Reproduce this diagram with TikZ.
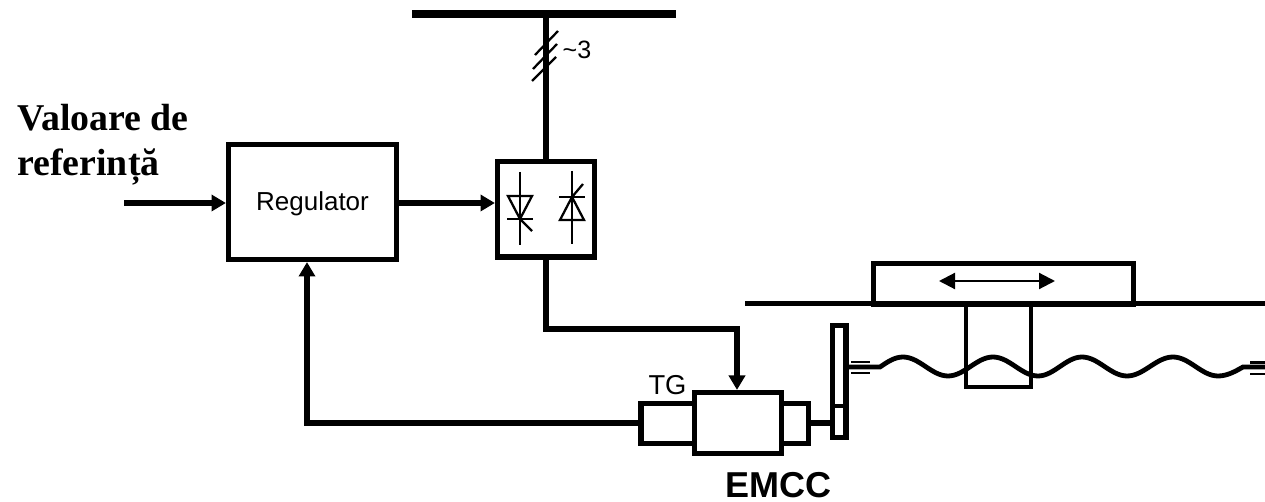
\documentclass[tikz,border=0pt]{standalone}
\usepackage{fontspec}
\setmainfont{Liberation Sans}
\newfontfamily\timesbold[BoldFont={Liberation Serif Bold}]{Liberation Serif}
\usetikzlibrary{arrows.meta}
\tikzset{
  px/.style={x=0.75pt,y=-0.75pt},
  box/.style={draw,fill=white,line width=3.9pt,inner sep=0pt,outer sep=.5\pgflinewidth},
  wire/.style={line width=3.9pt},
  arr/.style={line width=3.9pt,-{Triangle[length=10.8pt,width=12pt]}},
  thin/.style={line width=1.7pt},
  label/.style={inner sep=0pt,outer sep=0pt,anchor=base},
}
\newcommand{\tbox}[6]{% name, left, top, right, bottom, extra
  \node[box,#6,minimum width={(#4-#2)*0.75pt},minimum height={(#5-#3)*0.75pt}] (#1) at ({(#2+#4)/2},{(#3+#5)/2}) {};}
\begin{document}
\begin{tikzpicture}[px]
\useasboundingbox (0,0) rectangle (1265,502);
% supply bar and lead
\coordinate (busL) at (412,14);
\coordinate (busR) at (676,14);
\draw[line width=6pt] (busL) -- (busR);
\tbox{conv}{497.5}{161.5}{594.5}{257}{}
\coordinate (busT) at (546,14);
\draw[wire] (busT) -- (conv.north -| busT);
\draw[thin] (535,55) -- (558,31);
\draw[thin] (533,69) -- (557,44);
\draw[thin] (532,81) -- (556,57);
\node[label,font=\fontsize{18.8pt}{20pt}\selectfont] (ph) at (577,59) {\textasciitilde 3};
% converter symbols
\draw[thin] (520,172) -- (520,245);
\draw[thin,line join=miter] (508,196) -- (532,196) -- (520,219) -- cycle;
\draw[thin] (507,219) -- (533,219);
\draw[thin] (520,219) -- (532,231);
\draw[thin] (572,171) -- (572,244);
\draw[thin,line join=miter] (572,197) -- (584,220) -- (560,220) -- cycle;
\draw[thin] (559,197) -- (585,197);
\draw[thin] (572,197) -- (583,184);
% regulator
\tbox{reg}{228.5}{144.5}{396.5}{259.5}{}
\node[label,font=\fontsize{19.5pt}{22pt}\selectfont] (regt) at (312.5,210.7) {Regulator};
\coordinate (in) at (124,203);
\draw[arr] (in) -- (reg.west |- in);
\draw[arr] (reg.east |- in) -- (conv.west |- in);
% texts left
\node[anchor=base west,inner sep=0pt,font=\timesbold\bfseries\fontsize{28.4pt}{30pt}\selectfont] (v1) at (17,131) {Valoare de};
\node[anchor=base west,inner sep=0pt,font=\timesbold\bfseries\fontsize{28.4pt}{30pt}\selectfont] (v2) at (17,176) {referință};
% drive
\tbox{tg}{641}{403.5}{710}{443.5}{}
\tbox{rb}{770}{403.5}{808.5}{443.5}{}
\tbox{mot}{694.5}{392.5}{781.5}{453.5}{}
\tbox{gear}{832.5}{325.5}{846}{437.5}{}
\coordinate (divL) at (830,406);
\coordinate (divR) at (848,406);
\draw[line width=3.4pt] (divL) -- (divR);
\coordinate (fb) at (639,423);
\coordinate (fbup) at (307,423);
\draw[arr] (tg.west |- fb) -- (fbup) -- (fbup |- reg.south);
\coordinate (mdrop) at (737,329);
\draw[arr] (conv.south -| busT) -- (busT |- mdrop) -- (mdrop) -- (mot.north -| mdrop);
\draw[wire] (rb.east |- fb) -- (gear.west |- fb);
\node[label,font=\fontsize{20.5pt}{22pt}\selectfont] (tgl) at (667.5,395) {TG};
\node[label,font=\bfseries\fontsize{27pt}{30pt}\selectfont] (emcc) at (778.5,497.5) {EMCC};
% bed and table
\coordinate (bedL) at (745,304);
\coordinate (bedR) at (1265,304);
\tbox{nut}{966}{304}{1031}{387}{line width=3.2pt,fill=none}
\draw[line width=3.75pt] (bedL) -- (bedR);
\tbox{table}{873.5}{263.5}{1133.5}{304}{fill=none}
\coordinate (mvL) at (939,281);
\coordinate (mvR) at (1055,281);
\draw[line width=1.6pt,{Triangle[length=12pt,width=12pt]}-{Triangle[length=12pt,width=12pt]}] (mvL) -- (mvR);
% lead screw
\draw[line width=3.6pt] (848,367) -- (880,367)
  sin (903,357) cos (925.5,366.5) sin (948,376) cos (970.5,366.5)
  sin (993,357) cos (1015.5,366.5) sin (1038,376) cos (1060,366.5)
  sin (1082,357) cos (1104.5,366.5) sin (1127,376) cos (1150,366.5)
  sin (1173,357) cos (1195.5,366.5) sin (1218,376) cos (1243,367) -- (1265,367);
\draw[thin] (851,362) -- (870,362);
\draw[thin] (851,373) -- (870,373);
\draw[thin] (1250,362.5) -- (1265,362.5);
\draw[thin] (1250,374) -- (1265,374);
\end{tikzpicture}
\end{document}
